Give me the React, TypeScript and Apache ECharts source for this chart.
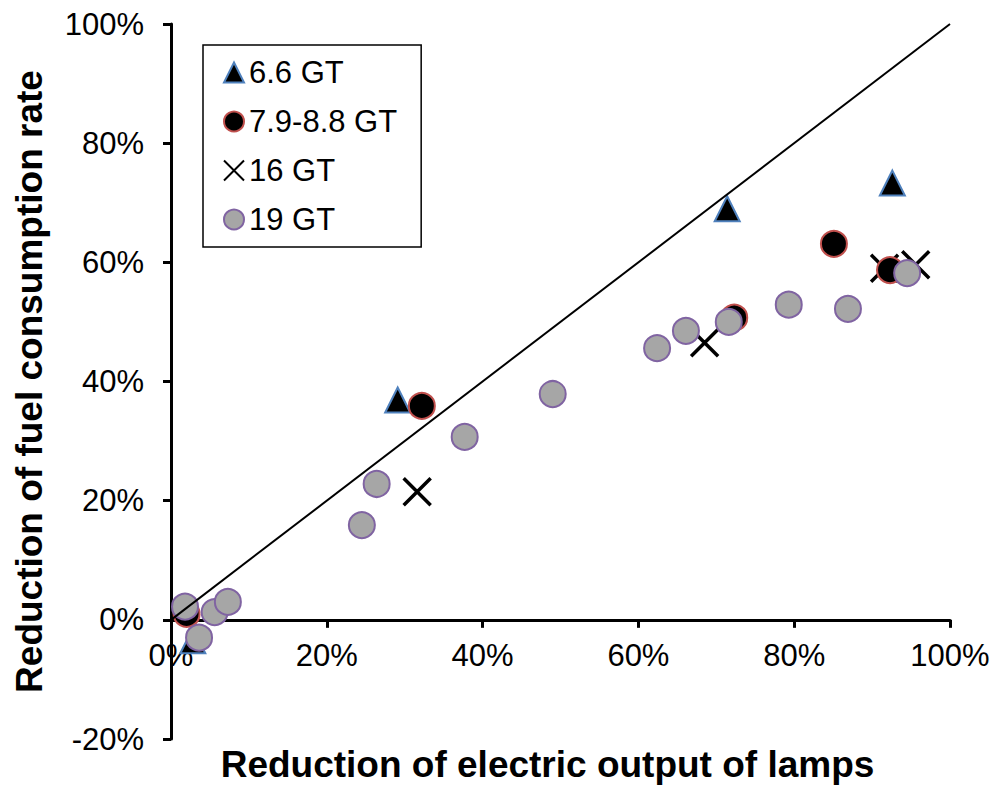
import React, { useEffect, useRef } from "react";
import * as echarts from "echarts";

// Axis ranges / tick step (percent)
const xMin = 0;
const xMax = 100;
const yMin = -20;
const yMax = 100;
const tickStep = 20;

// Series (x = reduction of electric output %, y = reduction of fuel consumption rate %)
const seriesNames = ["6.6 GT", "7.9-8.8 GT", "16 GT", "19 GT"];

const gt66: number[][] = [
  [2.8, -3.5],
  [29.1, 36.9],
  [71.4, 69.0],
  [92.6, 73.3],
];

const gt79: number[][] = [
  [2.0, 1.0],
  [32.2, 35.9],
  [72.3, 50.7],
  [85.1, 63.1],
  [92.3, 58.7],
];

const gt16: number[][] = [
  [31.6, 21.5],
  [68.5, 46.5],
  [91.6, 59.0],
  [95.6, 59.6],
];

const gt19: number[][] = [
  [1.8, 2.2],
  [3.6, -3.0],
  [5.6, 1.3],
  [7.3, 3.0],
  [24.5, 15.9],
  [26.4, 22.8],
  [37.7, 30.7],
  [49.0, 37.9],
  [62.4, 45.6],
  [66.1, 48.5],
  [71.6, 50.0],
  [79.3, 52.9],
  [86.9, 52.2],
  [94.5, 58.2],
];

// y = x reference line
const diagonal: number[][] = [
  [0, 0],
  [100, 100],
];

const FONT = "'Liberation Sans', Arial, sans-serif";

// layout
const GRID_TOP = 24;
const GRID_BOTTOM = 49;
const CHART_H = 788;

export default function App() {
  const ref = useRef<HTMLDivElement>(null);

  useEffect(() => {
    if (!ref.current) return;
    const chart = echarts.init(ref.current, null, { renderer: "svg" });
    const pct = (v: number) => `${v}%`;
    const gridH = CHART_H - GRID_TOP - GRID_BOTTOM;
    // move the x axis up to the y = 0 level
    const xAxisOffset = -((0 - yMin) / (yMax - yMin)) * gridH;

    chart.setOption({
      animation: false,
      backgroundColor: "#fff",
      textStyle: { fontFamily: FONT },
      grid: {
        left: 171,
        right: 48,
        top: GRID_TOP,
        bottom: GRID_BOTTOM,
        containLabel: false,
        outerBoundsMode: "none",
      },
      legend: {
        data: seriesNames,
        orient: "vertical",
        left: 203,
        top: 45,
        padding: [12, 24, 12, 20],
        itemGap: 18,
        itemWidth: 20,
        itemHeight: 20,
        borderColor: "#000",
        borderWidth: 1.5,
        textStyle: { fontFamily: FONT, fontSize: 31, color: "#000" },
      },
      xAxis: {
        type: "value",
        min: xMin,
        max: xMax,
        interval: tickStep,
        position: "bottom",
        offset: xAxisOffset,
        name: "Reduction of electric output of lamps",
        nameLocation: "middle",
        nameGap: 126,
        nameTextStyle: {
          fontFamily: FONT,
          fontSize: 37,
          fontWeight: "bold",
          color: "#000",
          padding: [0, 26, 0, 0],
        },
        axisLine: { onZero: false, lineStyle: { color: "#000", width: 3 } },
        axisTick: { show: true, length: 8, inside: false, lineStyle: { color: "#000", width: 3 } },
        axisLabel: { formatter: pct, fontSize: 31, color: "#000", margin: 20, fontFamily: FONT },
        splitLine: { show: false },
      },
      yAxis: {
        type: "value",
        min: yMin,
        max: yMax,
        interval: tickStep,
        name: "Reduction of fuel consumption rate",
        nameLocation: "middle",
        nameGap: 123,
        nameTextStyle: {
          fontFamily: FONT,
          fontSize: 37,
          fontWeight: "bold",
          color: "#000",
        },
        axisLine: { onZero: false, lineStyle: { color: "#000", width: 3 } },
        axisTick: { show: true, length: 8, inside: false, lineStyle: { color: "#000", width: 3 } },
        axisLabel: { formatter: pct, fontSize: 31, color: "#000", margin: 27, fontFamily: FONT },
        splitLine: { show: false },
      },
      series: [
        {
          name: "16 GT",
          type: "scatter",
          data: gt16,
          symbol: "path://M0,0L20,20M20,0L0,20",
          symbolSize: 27,
          itemStyle: { color: "rgba(0,0,0,0)", borderColor: "#000", borderWidth: 3.5, opacity: 1 },
        },
        {
          name: "6.6 GT",
          type: "scatter",
          data: gt66,
          symbol: "triangle",
          symbolSize: 25,
          itemStyle: { color: "#000", borderColor: "#4F81BD", borderWidth: 2, opacity: 1 },
        },
        {
          name: "7.9-8.8 GT",
          type: "scatter",
          data: gt79,
          symbol: "circle",
          symbolSize: 26,
          itemStyle: { color: "#000", borderColor: "#C0504D", borderWidth: 2, opacity: 1 },
        },
        {
          name: "19 GT",
          type: "scatter",
          data: gt19,
          symbol: "circle",
          symbolSize: 26,
          itemStyle: { color: "#A6A6A6", borderColor: "#8064A2", borderWidth: 2, opacity: 1 },
        },
        {
          name: "y=x",
          type: "line",
          data: diagonal,
          symbol: "none",
          silent: true,
          lineStyle: { color: "#000", width: 2 },
          z: 5,
        },
      ],
    });

    return () => chart.dispose();
  }, []);

  return (
    <div
      ref={ref}
      style={{ position: "fixed", left: 0, top: 0, width: 998, height: 788, background: "#fff" }}
    />
  );
}
